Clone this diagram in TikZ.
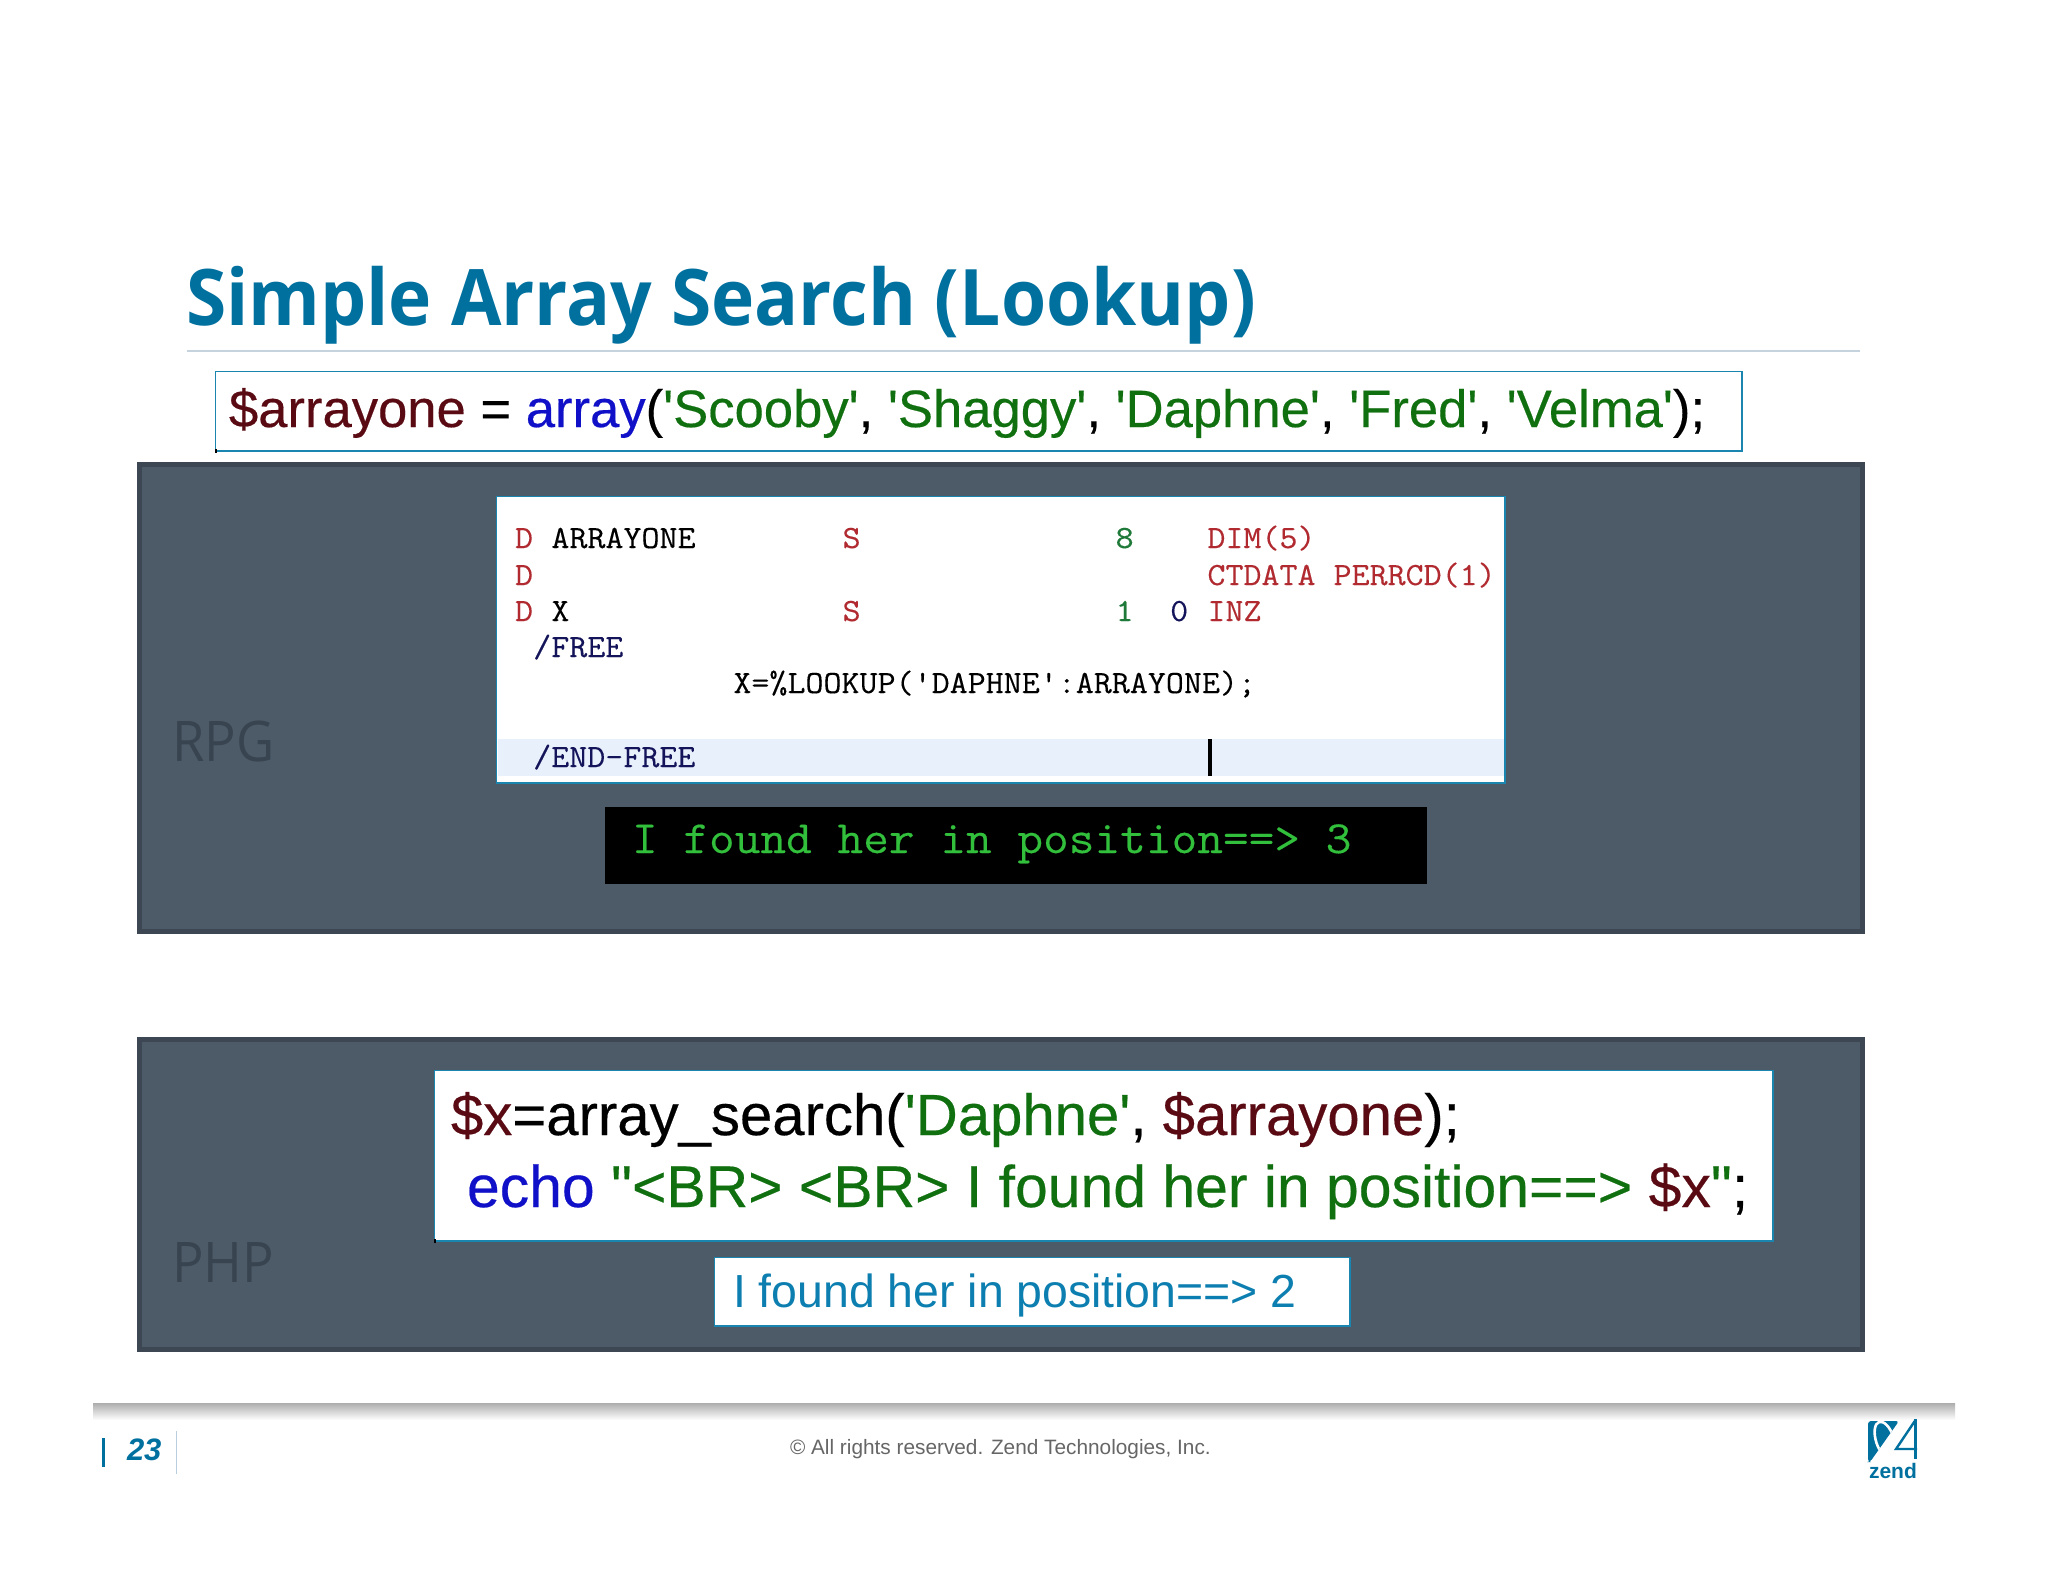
\documentclass[tikz,border=0pt]{standalone}
\usepackage{fontspec}
\setmainfont{Liberation Sans}
\newfontfamily\arialf{Liberation Sans}
\newfontfamily\codef[FakeBold=0.35]{Liberation Sans}
\newfontfamily\monof[FakeBold=0.25,FakeStretch=1.08]{Latin Modern Mono}
\newfontfamily\titlef[FakeStretch=0.937]{Open Sans}
\definecolor{zblue}{HTML}{00709F}
\definecolor{boxline}{HTML}{1A86B0}
\definecolor{panel}{HTML}{4D5B69}
\definecolor{paneldark}{HTML}{3D4653}
\definecolor{panellabel}{HTML}{38444F}
\definecolor{varc}{HTML}{5A0A12}
\definecolor{kwc}{HTML}{1010C8}
\definecolor{strc}{HTML}{107010}
\definecolor{rpgred}{HTML}{B02A30}
\definecolor{rpggreen}{HTML}{1F7A3A}
\definecolor{rpgnavy}{HTML}{14145A}
\definecolor{termg}{HTML}{32C03C}
\definecolor{hl}{HTML}{E8F0FC}
\definecolor{resblue}{HTML}{0C7FB0}
\definecolor{rulec}{HTML}{C5D3DF}
\definecolor{footline}{HTML}{B9CEDF}
\tikzset{
  txt/.style={inner sep=0pt,outer sep=0pt,anchor=base west},
  panelbox/.style={fill=panel,draw=paneldark,line width=5pt},
  whitebox/.style={fill=white,draw=boxline,line width=1.6pt},
  rpg/.style={txt,font=\monof\fontsize{32.4}{36}\selectfont},
  panellab/.style={txt,text=panellabel,font=\titlef\fontsize{56}{60}\selectfont},
  phpcode/.style={txt,font=\codef\fontsize{58.1}{70}\selectfont}
}
\begin{document}
\begin{tikzpicture}[x=1pt,y=-1pt]
\useasboundingbox (0,0) rectangle (2048,1582);
\fill[white] (0,0) rectangle (2048,1582);
% title
\node[txt,text=zblue,font=\titlef\bfseries\fontsize{78}{90}\selectfont] (title) at (186,325) {Simple Array Search (Lookup)};
\draw[rulec,line width=1.6pt] (187,351) -- (1860,351);
% array box
\draw[whitebox] (215.5,371.5) rectangle (1742,451);
\fill[black] (215,449) rectangle (217,453);
\node[txt,font=\codef\fontsize{52.6}{60}\selectfont] (arr) at (229,427) {\textcolor{varc}{\$arrayone} = \textcolor{kwc}{array}(\textcolor{strc}{'Scooby'}, \textcolor{strc}{'Shaggy'}, \textcolor{strc}{'Daphne'}, \textcolor{strc}{'Fred'}, \textcolor{strc}{'Velma'});};
% RPG panel
\draw[panelbox] (139.5,464.5) rectangle (1862.5,931.5);
\node[panellab] (rpglab) at (172,761) {RPG};
\draw[whitebox] (496.5,496.5) rectangle (1505,783);
\fill[hl] (497.5,739) rectangle (1504,776);
\fill[black] (1207.5,739) rectangle (1211.5,776);
\node[rpg,text=rpgred] (d1) at (515,548) {D};
\node[rpg,text=black] (a1) at (551.4,548) {ARRAYONE};
\node[rpg,text=rpgred] (s1) at (842.6,548) {S};
\node[rpg,text=rpggreen] (n8) at (1115.6,548) {8};
\node[rpg,text=rpgred] (dim) at (1207.4,548) {DIM(5)};
\node[rpg,text=rpgred] (d2) at (515,585) {D};
\node[rpg,text=rpgred] (ct) at (1207.4,585) {CTDATA PERRCD(1)};
\node[rpg,text=rpgred] (d3) at (515,621) {D};
\node[rpg,text=black] (x3) at (551.4,621) {X};
\node[rpg,text=rpgred] (s3) at (842.6,621) {S};
\node[rpg,text=rpggreen] (n1) at (1115.6,621) {1};
\node[rpg,text=rpgnavy] (n0) at (1170.2,621) {0};
\node[rpg,text=rpgred] (inz) at (1207.4,621) {INZ};
\node[rpg,text=rpgnavy] (free) at (533.2,657) {/FREE};
\node[rpg,text=black] (look) at (733.4,693) {X=\%LOOKUP('DAPHNE':ARRAYONE);};
\node[rpg,text=rpgnavy] (endf) at (533.2,767) {/END-FREE};
\fill[black] (605,807) rectangle (1427,884);
\node[txt,text=termg,font=\monof\fontsize{46.2}{50}\selectfont] (term) at (632,853) {I found her in position==> 3};
% PHP panel
\draw[panelbox] (139.5,1039.5) rectangle (1862.5,1349.5);
\node[panellab] (phplab) at (172,1282) {PHP};
\draw[whitebox] (434.5,1070.5) rectangle (1773,1241);
\fill[black] (434,1239) rectangle (436,1243);
\node[phpcode] (l1) at (451,1135) {\textcolor{varc}{\$x}=array\_search(\textcolor{strc}{'Daphne'}, \textcolor{varc}{\$arrayone});};
\node[phpcode,font=\codef\fontsize{58.9}{70}\selectfont] (l2) at (467,1207) {\textcolor{kwc}{echo} \textcolor{strc}{"<BR> <BR> I found her in position==>} \textcolor{varc}{\$x}\textcolor{strc}{"};};
\draw[whitebox] (714.5,1257.5) rectangle (1350,1326);
\node[txt,text=resblue,font=\arialf\fontsize{46.4}{56}\selectfont] (res) at (733,1307) {I found her in position==> 2};
% footer
\shade[top color=black!32,bottom color=white] (93,1403) rectangle (1955,1420);
\fill[zblue] (101.5,1438) rectangle (105,1467);
\node[txt,text=zblue,font=\arialf\bfseries\itshape\fontsize{31}{36}\selectfont] (page) at (127,1460) {23};
\draw[footline,line width=1.2pt] (176.5,1431) -- (176.5,1474);
\node[txt,text=black!60,font=\arialf\fontsize{20.8}{26}\selectfont] (copy) at (790,1454) {© All rights reserved. Zend Technologies, Inc.};
% logo
\begin{scope}
\clip[rounded corners=3pt] (1868,1421) -- (1899,1421) -- (1870,1462) -- (1868,1462) -- cycle;
\fill[zblue] (1860,1415) rectangle (1905,1465);
\draw[white,line width=2.6pt,rotate around={18:(1885,1440)}] (1885,1440) ellipse (9 and 19);
\end{scope}
\draw[zblue,line width=2.4pt] (1915.5,1419) -- (1915.5,1459);
\draw[zblue,line width=2.4pt] (1915.5,1420) -- (1896,1449) -- (1917,1449);
\node[txt,text=zblue,font=\arialf\bfseries\fontsize{21}{24}\selectfont] (zend) at (1869,1478) {zend};
\end{tikzpicture}
\end{document}
